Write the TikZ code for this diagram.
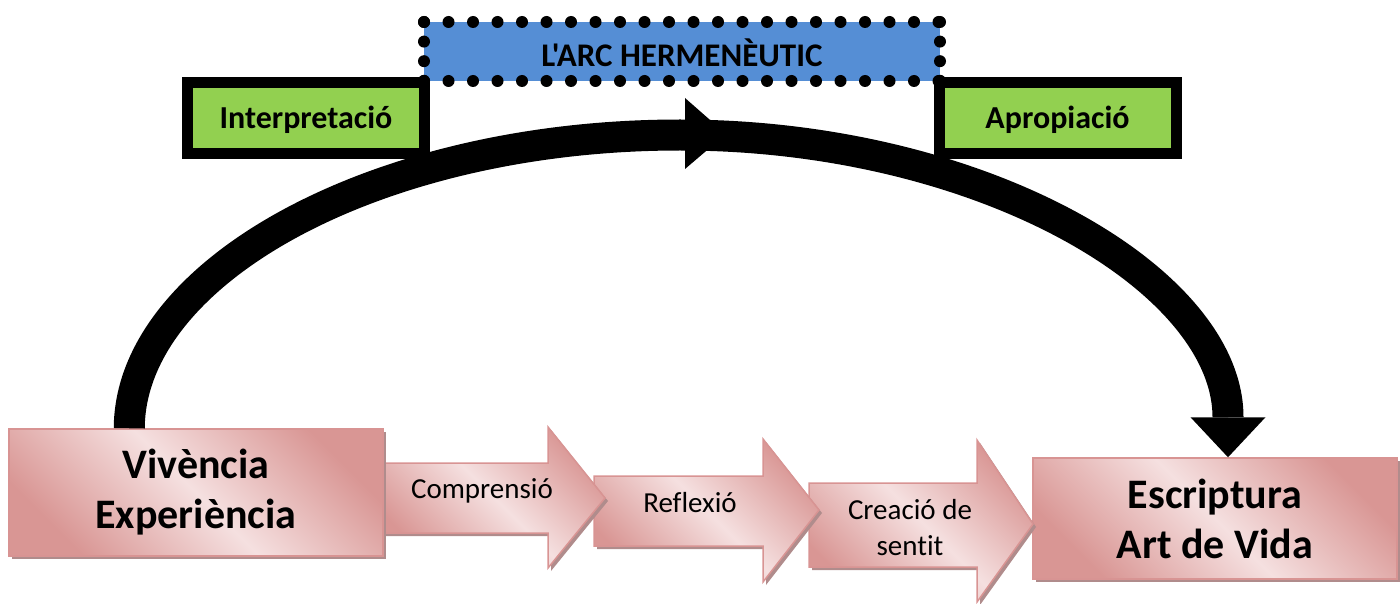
\documentclass[tikz,border=0pt]{standalone}
\usepackage{fontspec}
\setmainfont{Carlito}[Ligatures={TeXOff,NoCommon}]
\usetikzlibrary{shadows,arrows.meta}

\definecolor{pinklight}{RGB}{245,224,224}
\definecolor{pinkdark}{RGB}{217,150,148}
\definecolor{pinkline}{RGB}{216,148,147}
\definecolor{pinkshadow}{RGB}{176,140,140}
\definecolor{arcgreen}{RGB}{146,208,80}
\definecolor{arcblue}{RGB}{85,142,213}

\begin{document}
\begin{tikzpicture}[x=1pt, y=-1pt]
    % Define block styles
    \tikzstyle{pinkfill} = [draw=pinkline, line width=1.5pt, left color=pinkdark,
        right color=pinkdark, middle color=pinklight, shading angle=-45,
        drop shadow={shadow xshift=3pt, shadow yshift=-3pt, fill=pinkshadow, opacity=1}]
    \tikzstyle{block} = [pinkfill, rectangle, inner sep=0pt, align=center,
        font=\fontsize{42}{50}\selectfont\bfseries]
    \tikzstyle{steplabel} = [align=center, inner sep=0pt, font=\fontsize{29}{36}\selectfont]
    \tikzstyle{phase} = [rectangle, draw=black, line width=11pt, fill=arcgreen,
        minimum width=237pt, minimum height=71pt, text height=20pt, text depth=0pt,
        font=\fontsize{32}{38}\selectfont\bfseries]
    \tikzstyle{titlebox} = [rectangle, fill=arcblue, inner sep=0pt, outer sep=0pt,
        minimum width=516pt, minimum height=59pt, text height=31pt, text depth=0pt,
        font=\fontsize{33}{38}\selectfont\bfseries]
    \tikzstyle{dotrow} = [draw=black, line width=12pt, line cap=round]
    \tikzstyle{arcline} = [draw, line width=31pt, -{Triangle[width=75pt, length=40pt, line width=0pt]}]

    \useasboundingbox (0,0) rectangle (1400,604);

    % End block
    \node [block, minimum width=364pt, minimum height=121pt] (esc) at (1215,518.5) {Escriptura\\Art de Vida};

    % Step arrows
    \path [pinkfill] (809,483) -- (977,483) -- (977,440) -- (1033,524) -- (977,602) -- (977,567) -- (809,567) -- cycle;
    \node [steplabel] (sent) at (910,528) {Creació de\\sentit};
    \path [pinkfill] (594,476) -- (763,476) -- (763,439) -- (819,510) -- (763,582) -- (763,546) -- (594,546) -- cycle;
    \node [steplabel] (refl) at (690,502.5) {Reflexió};
    \path [pinkfill] (383,463) -- (548,463) -- (548,427) -- (605,498) -- (548,568) -- (548,533) -- (383,533) -- cycle;
    \node [steplabel] (comp) at (482,490.5) {Comprensió};

    % Start block
    \node [block, minimum width=374pt, minimum height=127pt] (viv) at (196,492.5) {Vivència\\Experiència};

    % Hermeneutic arc
    \coordinate (arcstart) at ([xshift=121pt]viv.north west);
    \coordinate (arcend) at ([xshift=13pt]esc.north);
    \path [arcline] (arcstart) .. controls (130,272) and (376,135) .. (680,135)
        .. controls (982,135) and (1228,280) .. (arcend);
    \fill (685,98) -- (726,134) -- (685,169) -- cycle;

    % Phases
    \node [phase] (interp) at (306,118.5) {Interpretació};
    \node [phase] (apro) at (1057.5,118.5) {Apropiació};

    % Title
    \node [titlebox] (title) at (682,51.5) {L'ARC HERMENÈUTIC};
    \draw [dotrow, dash pattern=on 0pt off 24.5pt] (title.north west) -- (title.north east)
        (title.south west) -- (title.south east);
    \draw [dotrow, dash pattern=on 0pt off 19.6pt] (title.north west) -- (title.south west)
        (title.north east) -- (title.south east);
\end{tikzpicture}
\end{document}
